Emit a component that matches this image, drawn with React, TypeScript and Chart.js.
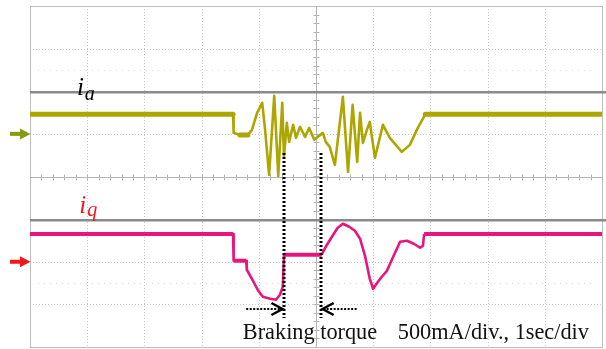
import React, { useEffect, useRef } from "react";
import { Chart, registerables } from "chart.js";

Chart.register(...registerables);

// Oscilloscope: 1 sec/div horizontally, 500 mA/div vertically, 10 x 8 divisions
const timeDivisions = 10;
const ampDivisions = 8;
const mAPerDiv = 500;

// ground markers (in divisions from the bottom of the screen)
const iaGround = 5;
const iqGround = 2;

// i_a phase current (time in s, current in mA)
const iaTime = [
  0, 3.55, 3.56, 3.67, 3.81, 3.88, 3.97, 4.06, 4.11, 4.18, 4.27, 4.34, 4.41, 4.44,
  4.49, 4.53, 4.6, 4.65, 4.72, 4.81, 4.88, 4.97, 5.03, 5.12, 5.17, 5.24, 5.33, 5.47,
  5.56, 5.64, 5.72, 5.77, 5.82, 5.89, 5.94, 6.03, 6.17, 6.29, 6.5, 6.64, 6.78, 6.91, 10,
];
const iaCurrent = [
  230, 230, 12, -12, -12, 47, 247, 364, 47, -481, 446, -493, 364, -270,
  129, -94, 106, -47, 82, -35, 70, -70, -35, 12, -94, -153, -364, 434,
  -446, 340, -329, 247, -106, 47, 141, -282, 106, -47, -211, -129, 70, 230, 230,
];

// i_q current (time in s, current in mA)
const iqTime = [
  0, 3.55, 3.56, 3.78, 3.79, 3.88, 3.99, 4.07, 4.2, 4.3, 4.37, 4.42, 4.44, 5.1,
  5.17, 5.3, 5.38, 5.47, 5.58, 5.68, 5.77, 5.86, 5.94, 6.0, 6.07, 6.15, 6.24, 6.35,
  6.47, 6.59, 6.71, 6.82, 6.87, 6.89, 10,
];
const iqCurrent = [
  325, 325, 12, 12, -94, -200, -340, -411, -434, -446, -387, -294, 82, 82,
  176, 317, 399, 446, 411, 364, 270, 59, -200, -317, -247, -176, -106, 59,
  235, 247, 211, 164, 188, 325, 325,
];

// braking torque interval (s)
const brakingStart = 4.44;
const brakingEnd = 5.09;

const captionLeft = "Braking torque";
const captionRight = "500mA/div., 1sec/div";

const toPoints = (t: number[], mA: number[], ground: number) =>
  t.map((x, i) => ({ x, y: ground + mA[i] / mAPerDiv }));

const scopePlugin = {
  id: "scope",
  beforeDatasetsDraw(chart: any) {
    const { ctx, chartArea: a, scales } = chart;
    const xs = scales.x;
    const ys = scales.y;
    const X = (v: number) => Math.round(xs.getPixelForValue(v)) + 0.5;
    const Y = (v: number) => Math.round(ys.getPixelForValue(v)) + 0.5;
    ctx.save();
    // dotted grid
    ctx.strokeStyle = "#c8c8c8";
    ctx.lineWidth = 1;
    ctx.setLineDash([1, 2]);
    for (let t = 1; t < timeDivisions; t++) {
      if (t === 5) continue;
      ctx.beginPath();
      ctx.moveTo(X(t), a.top);
      ctx.lineTo(X(t), a.bottom);
      ctx.stroke();
    }
    for (let v = 1; v < ampDivisions; v++) {
      if (v === 4 || v === 3 || v === 6) continue;
      ctx.beginPath();
      ctx.moveTo(a.left, Y(v));
      ctx.lineTo(a.right, Y(v));
      ctx.stroke();
    }
    // faint dot rows
    ctx.strokeStyle = "#d8d8d8";
    ctx.setLineDash([1, 5]);
    [6.5, 1.5].forEach((v) => {
      ctx.beginPath();
      ctx.moveTo(a.left + 8, Y(v));
      ctx.lineTo(a.right - 8, Y(v));
      ctx.stroke();
    });
    ctx.setLineDash([]);
    // frame
    ctx.strokeStyle = "#bdbdbd";
    ctx.strokeRect(Math.round(a.left) + 0.5, Math.round(a.top) + 0.5, Math.round(a.right - a.left), Math.round(a.bottom - a.top));
    // centre axes with ticks
    ctx.strokeStyle = "#b4b4b4";
    ctx.beginPath();
    ctx.moveTo(X(5), a.top);
    ctx.lineTo(X(5), a.bottom);
    ctx.moveTo(a.left, Y(4));
    ctx.lineTo(a.right, Y(4));
    for (let t = 0.2; t < timeDivisions; t += 0.2) {
      ctx.moveTo(X(t), Y(4) - 3);
      ctx.lineTo(X(t), Y(4) + 3);
    }
    for (let v = 0.2; v < ampDivisions; v += 0.2) {
      ctx.moveTo(X(5) - 3, Y(v));
      ctx.lineTo(X(5) + 3, Y(v));
    }
    ctx.stroke();
    // reference lines
    ctx.strokeStyle = "#8a8a8a";
    ctx.lineWidth = 2.5;
    [6, 3].forEach((v) => {
      ctx.beginPath();
      ctx.moveTo(a.left, ys.getPixelForValue(v) + 1);
      ctx.lineTo(chart.width, ys.getPixelForValue(v) + 1);
      ctx.stroke();
    });
    // ground markers
    const marker = (v: number, color: string) => {
      const y = ys.getPixelForValue(v);
      ctx.fillStyle = color;
      ctx.fillRect(a.left - 20, y - 2, 11, 4);
      ctx.beginPath();
      ctx.moveTo(a.left - 10, y - 5.5);
      ctx.lineTo(a.left + 0.5, y);
      ctx.lineTo(a.left - 10, y + 5.5);
      ctx.closePath();
      ctx.fill();
    };
    marker(iaGround, "#8a9a10");
    marker(iqGround, "#f01818");
    ctx.restore();
  },
  afterDatasetsDraw(chart: any) {
    const { ctx, scales } = chart;
    const xs = scales.x;
    const ys = scales.y;
    const px = (v: number) => xs.getPixelForValue(v);
    const py = (v: number) => ys.getPixelForValue(v);
    ctx.save();
    // braking interval markers
    ctx.strokeStyle = "#000";
    ctx.lineWidth = 3;
    ctx.setLineDash([2, 2]);
    [brakingStart, brakingEnd].forEach((t) => {
      ctx.beginPath();
      ctx.moveTo(Math.round(px(t)), py(4.55));
      ctx.lineTo(Math.round(px(t)), py(0.68));
      ctx.stroke();
    });
    const ay = Math.round(py(0.89));
    ctx.lineWidth = 2;
    ctx.setLineDash([2, 1.5]);
    ctx.beginPath();
    ctx.moveTo(px(3.78), ay);
    ctx.lineTo(px(brakingStart) - 2, ay);
    ctx.moveTo(px(brakingEnd) + 2, ay);
    ctx.lineTo(px(5.73), ay);
    ctx.stroke();
    ctx.setLineDash([]);
    ctx.lineWidth = 2.5;
    ctx.beginPath();
    const l = px(brakingStart) - 1.5;
    ctx.moveTo(l - 11, ay - 6);
    ctx.lineTo(l, ay);
    ctx.lineTo(l - 11, ay + 6);
    const r = px(brakingEnd) + 1.5;
    ctx.moveTo(r + 11, ay - 6);
    ctx.lineTo(r, ay);
    ctx.lineTo(r + 11, ay + 6);
    ctx.stroke();
    // captions
    ctx.fillStyle = "#111";
    ctx.font = '22.3px "Liberation Serif", "Times New Roman", serif';
    ctx.textBaseline = "alphabetic";
    ctx.textAlign = "left";
    ctx.fillText(captionLeft, px(3.72), py(0.19));
    ctx.fillText(captionRight, px(6.43), py(0.19));
    // trace labels
    const label = (t: number, v: number, sub: string, color: string, dy: number) => {
      ctx.fillStyle = color;
      ctx.font = 'italic 25px "Liberation Serif", "Times New Roman", serif';
      ctx.fillText("i", px(t), py(v));
      const w = ctx.measureText("i").width;
      ctx.font = 'italic 20px "Liberation Serif", "Times New Roman", serif';
      ctx.fillText(sub, px(t) + w + 1, py(v) + dy);
    };
    label(0.82, 5.91, "a", "#000", 5);
    label(0.86, 3.15, "q", "#f01818", 3);
    ctx.restore();
  },
};

export default function App() {
  const ref = useRef<HTMLCanvasElement | null>(null);
  useEffect(() => {
    if (!ref.current) return;
    const chart = new Chart(ref.current, {
      type: "line",
      data: {
        datasets: [
          {
            label: "i_a",
            data: toPoints(iaTime, iaCurrent, iaGround),
            borderColor: "#aea600",
            borderWidth: 2.6,
            borderJoinStyle: "round",
            borderCapStyle: "round",
            pointRadius: 0,
            tension: 0,
            segment: {
              borderWidth: (c: any) => (c.p0.parsed.y === c.p1.parsed.y ? 5 : 2.6),
            },
          },
          {
            label: "i_q",
            data: toPoints(iqTime, iqCurrent, iqGround),
            borderColor: "#e8157e",
            borderWidth: 2.6,
            borderJoinStyle: "round",
            pointRadius: 0,
            tension: 0,
            segment: {
              borderWidth: (c: any) => (c.p0.parsed.y === c.p1.parsed.y ? 4 : 2.6),
            },
          },
        ] as any,
      },
      options: {
        animation: false,
        responsive: false,
        devicePixelRatio: 1,
        layout: { padding: { left: 30, top: 6, right: 4, bottom: 2 } },
        plugins: { legend: { display: false }, tooltip: { enabled: false } },
        scales: {
          x: { type: "linear", min: 0, max: timeDivisions, display: false },
          y: { type: "linear", min: 0, max: ampDivisions, display: false },
        },
      },
      plugins: [scopePlugin],
    });
    return () => chart.destroy();
  }, []);
  return (
    <div style={{ position: "absolute", left: 0, top: 0, width: 606, height: 349, background: "#fff" }}>
      <canvas ref={ref} width={606} height={349} />
    </div>
  );
}
